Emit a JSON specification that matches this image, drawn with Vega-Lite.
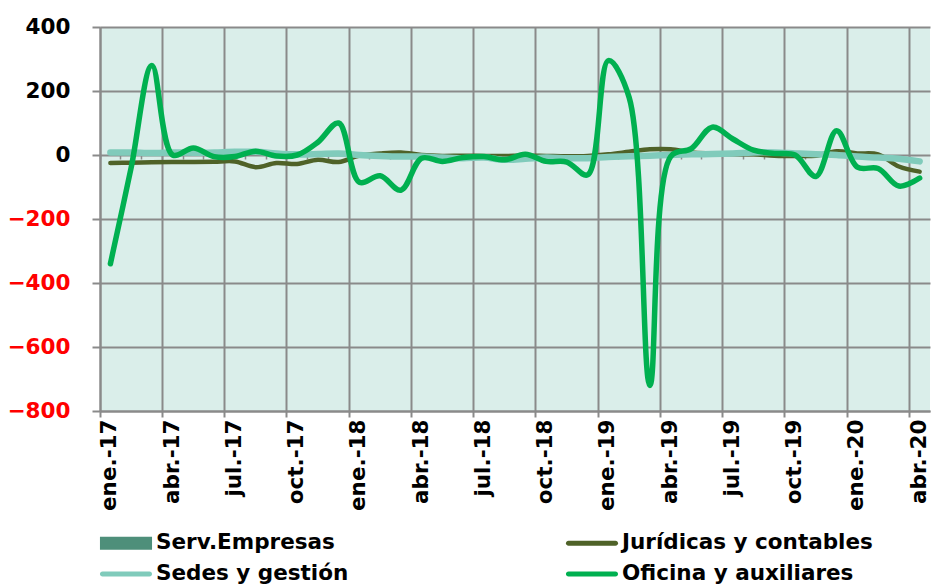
{
"$schema": "https://vega.github.io/schema/vega-lite/v6.json",
"autosize": {"type": "none"},
"padding": {"left": 100, "top": 27, "right": 15, "bottom": 174},
"width": 830,
"height": 384,
"background": "white",
"config": {"view": {"fill": "#daeeea", "stroke": null}, "font": "DejaVu Sans"},
"data": {"values": [
{"mes":"ene.-17","serie":"Jurídicas y contables","valor":-25},{"mes":"feb.-17","serie":"Jurídicas y contables","valor":-24},{"mes":"mar.-17","serie":"Jurídicas y contables","valor":-23},{"mes":"abr.-17","serie":"Jurídicas y contables","valor":-22},{"mes":"may.-17","serie":"Jurídicas y contables","valor":-22},{"mes":"jun.-17","serie":"Jurídicas y contables","valor":-21},{"mes":"jul.-17","serie":"Jurídicas y contables","valor":-20},{"mes":"ago.-17","serie":"Jurídicas y contables","valor":-38},{"mes":"sep.-17","serie":"Jurídicas y contables","valor":-25},{"mes":"oct.-17","serie":"Jurídicas y contables","valor":-28},{"mes":"nov.-17","serie":"Jurídicas y contables","valor":-15},{"mes":"dic.-17","serie":"Jurídicas y contables","valor":-22},
{"mes":"ene.-18","serie":"Jurídicas y contables","valor":-2},{"mes":"feb.-18","serie":"Jurídicas y contables","valor":5},{"mes":"mar.-18","serie":"Jurídicas y contables","valor":8},{"mes":"abr.-18","serie":"Jurídicas y contables","valor":0},{"mes":"may.-18","serie":"Jurídicas y contables","valor":-3},{"mes":"jun.-18","serie":"Jurídicas y contables","valor":-2},{"mes":"jul.-18","serie":"Jurídicas y contables","valor":-3},{"mes":"ago.-18","serie":"Jurídicas y contables","valor":-3},{"mes":"sep.-18","serie":"Jurídicas y contables","valor":-2},{"mes":"oct.-18","serie":"Jurídicas y contables","valor":-3},{"mes":"nov.-18","serie":"Jurídicas y contables","valor":-4},{"mes":"dic.-18","serie":"Jurídicas y contables","valor":-3},
{"mes":"ene.-19","serie":"Jurídicas y contables","valor":2},{"mes":"feb.-19","serie":"Jurídicas y contables","valor":10},{"mes":"mar.-19","serie":"Jurídicas y contables","valor":18},{"mes":"abr.-19","serie":"Jurídicas y contables","valor":18},{"mes":"may.-19","serie":"Jurídicas y contables","valor":8},{"mes":"jun.-19","serie":"Jurídicas y contables","valor":5},{"mes":"jul.-19","serie":"Jurídicas y contables","valor":3},{"mes":"ago.-19","serie":"Jurídicas y contables","valor":2},{"mes":"sep.-19","serie":"Jurídicas y contables","valor":-2},{"mes":"oct.-19","serie":"Jurídicas y contables","valor":-3},{"mes":"nov.-19","serie":"Jurídicas y contables","valor":-2},{"mes":"dic.-19","serie":"Jurídicas y contables","valor":12},
{"mes":"ene.-20","serie":"Jurídicas y contables","valor":5},{"mes":"feb.-20","serie":"Jurídicas y contables","valor":2},{"mes":"mar.-20","serie":"Jurídicas y contables","valor":-36},{"mes":"abr.-20","serie":"Jurídicas y contables","valor":-52},
{"mes":"ene.-17","serie":"Sedes y gestión","valor":8},{"mes":"feb.-17","serie":"Sedes y gestión","valor":8},{"mes":"mar.-17","serie":"Sedes y gestión","valor":6},{"mes":"abr.-17","serie":"Sedes y gestión","valor":8},{"mes":"may.-17","serie":"Sedes y gestión","valor":7},{"mes":"jun.-17","serie":"Sedes y gestión","valor":8},{"mes":"jul.-17","serie":"Sedes y gestión","valor":10},{"mes":"ago.-17","serie":"Sedes y gestión","valor":10},{"mes":"sep.-17","serie":"Sedes y gestión","valor":5},{"mes":"oct.-17","serie":"Sedes y gestión","valor":2},{"mes":"nov.-17","serie":"Sedes y gestión","valor":3},{"mes":"dic.-17","serie":"Sedes y gestión","valor":5},
{"mes":"ene.-18","serie":"Sedes y gestión","valor":0},{"mes":"feb.-18","serie":"Sedes y gestión","valor":-3},{"mes":"mar.-18","serie":"Sedes y gestión","valor":-5},{"mes":"abr.-18","serie":"Sedes y gestión","valor":-5},{"mes":"may.-18","serie":"Sedes y gestión","valor":-8},{"mes":"jun.-18","serie":"Sedes y gestión","valor":-10},{"mes":"jul.-18","serie":"Sedes y gestión","valor":-8},{"mes":"ago.-18","serie":"Sedes y gestión","valor":-15},{"mes":"sep.-18","serie":"Sedes y gestión","valor":-12},{"mes":"oct.-18","serie":"Sedes y gestión","valor":-8},{"mes":"nov.-18","serie":"Sedes y gestión","valor":-10},{"mes":"dic.-18","serie":"Sedes y gestión","valor":-10},
{"mes":"ene.-19","serie":"Sedes y gestión","valor":-6},{"mes":"feb.-19","serie":"Sedes y gestión","valor":-4},{"mes":"mar.-19","serie":"Sedes y gestión","valor":-2},{"mes":"abr.-19","serie":"Sedes y gestión","valor":0},{"mes":"may.-19","serie":"Sedes y gestión","valor":2},{"mes":"jun.-19","serie":"Sedes y gestión","valor":3},{"mes":"jul.-19","serie":"Sedes y gestión","valor":5},{"mes":"ago.-19","serie":"Sedes y gestión","valor":8},{"mes":"sep.-19","serie":"Sedes y gestión","valor":8},{"mes":"oct.-19","serie":"Sedes y gestión","valor":5},{"mes":"nov.-19","serie":"Sedes y gestión","valor":2},{"mes":"dic.-19","serie":"Sedes y gestión","valor":0},
{"mes":"ene.-20","serie":"Sedes y gestión","valor":-5},{"mes":"feb.-20","serie":"Sedes y gestión","valor":-8},{"mes":"mar.-20","serie":"Sedes y gestión","valor":-12},{"mes":"abr.-20","serie":"Sedes y gestión","valor":-20},
{"mes":"ene.-17","serie":"Oficina y auxiliares","valor":-340},{"mes":"feb.-17","serie":"Oficina y auxiliares","valor":-40},{"mes":"mar.-17","serie":"Oficina y auxiliares","valor":280},{"mes":"abr.-17","serie":"Oficina y auxiliares","valor":0},{"mes":"may.-17","serie":"Oficina y auxiliares","valor":22},{"mes":"jun.-17","serie":"Oficina y auxiliares","valor":-5},{"mes":"jul.-17","serie":"Oficina y auxiliares","valor":-5},{"mes":"ago.-17","serie":"Oficina y auxiliares","valor":12},{"mes":"sep.-17","serie":"Oficina y auxiliares","valor":-3},{"mes":"oct.-17","serie":"Oficina y auxiliares","valor":0},{"mes":"nov.-17","serie":"Oficina y auxiliares","valor":40},{"mes":"dic.-17","serie":"Oficina y auxiliares","valor":100},
{"mes":"ene.-18","serie":"Oficina y auxiliares","valor":-85},{"mes":"feb.-18","serie":"Oficina y auxiliares","valor":-65},{"mes":"mar.-18","serie":"Oficina y auxiliares","valor":-110},{"mes":"abr.-18","serie":"Oficina y auxiliares","valor":-10},{"mes":"may.-18","serie":"Oficina y auxiliares","valor":-20},{"mes":"jun.-18","serie":"Oficina y auxiliares","valor":-8},{"mes":"jul.-18","serie":"Oficina y auxiliares","valor":-5},{"mes":"ago.-18","serie":"Oficina y auxiliares","valor":-15},{"mes":"sep.-18","serie":"Oficina y auxiliares","valor":2},{"mes":"oct.-18","serie":"Oficina y auxiliares","valor":-20},{"mes":"nov.-18","serie":"Oficina y auxiliares","valor":-22},{"mes":"dic.-18","serie":"Oficina y auxiliares","valor":-62},
{"mes":"ene.-19","serie":"Oficina y auxiliares","valor":295},{"mes":"feb.-19","serie":"Oficina y auxiliares","valor":180},{"mes":"mar.-19","serie":"Oficina y auxiliares","valor":-720},{"mes":"abr.-19","serie":"Oficina y auxiliares","valor":-5},{"mes":"may.-19","serie":"Oficina y auxiliares","valor":20},{"mes":"jun.-19","serie":"Oficina y auxiliares","valor":87},{"mes":"jul.-19","serie":"Oficina y auxiliares","valor":50},{"mes":"ago.-19","serie":"Oficina y auxiliares","valor":15},{"mes":"sep.-19","serie":"Oficina y auxiliares","valor":5},{"mes":"oct.-19","serie":"Oficina y auxiliares","valor":0},{"mes":"nov.-19","serie":"Oficina y auxiliares","valor":-67},{"mes":"dic.-19","serie":"Oficina y auxiliares","valor":76},
{"mes":"ene.-20","serie":"Oficina y auxiliares","valor":-38},{"mes":"feb.-20","serie":"Oficina y auxiliares","valor":-42},{"mes":"mar.-20","serie":"Oficina y auxiliares","valor":-97},{"mes":"abr.-20","serie":"Oficina y auxiliares","valor":-72}
]},
"encoding": {
  "y": {"field": "valor", "type": "quantitative", "title": null,
    "scale": {"domain": [-800, 400], "nice": false, "zero": false},
    "axis": {"values": [-800, -600, -400, -200, 0, 200, 400], "grid": true, "gridColor": "#8a8a8a", "gridWidth": 2,
      "domainColor": "#8a8a8a", "domainWidth": 2, "tickColor": "#8a8a8a", "tickWidth": 2, "tickSize": 8,
      "labelFont": "DejaVu Sans", "labelFontWeight": "bold", "labelFontSize": 21.5, "labelPadding": 22,
      "labelColor": {"condition": {"test": "datum.value < 0", "value": "#ff0000"}, "value": "#000000"}}},
  "color": {"field": "serie", "type": "nominal",
    "scale": {"domain": ["Serv.Empresas", "Jurídicas y contables", "Sedes y gestión", "Oficina y auxiliares"],
              "range": ["#4e8f7a", "#4f6228", "#80cbbb", "#00b050"]},
    "legend": {"title": null, "orient": "none", "legendX": 0, "legendY": 504, "direction": "horizontal", "columns": 2,
      "columnPadding": 158, "rowPadding": 8, "gridAlign": "all",
      "symbolType": "M-2.17,-0.21H2.17V0.21H-2.17Z", "symbolSize": 576, "symbolStrokeWidth": 0, "symbolOffset": 14,
      "labelFont": "DejaVu Sans", "labelFontWeight": "bold", "labelFontSize": 21.5, "labelColor": "#000000",
      "labelOffset": 18, "labelLimit": 400,
      "encode": {"symbols": {"update": {
        "fill": {"scale": "color", "field": "value"},
        "fillOpacity": {"value": 1},
        "strokeWidth": {"value": 0},
        "shape": {"signal": "datum.value === 'Serv.Empresas' ? 'M-2.17,-0.54H2.17V0.54H-2.17Z' : 'M-1.96,-0.21H1.96A0.21,0.21 0 0 1 1.96,0.21H-1.96A0.21,0.21 0 0 1 -1.96,-0.21Z'"}}}}}}
},
"layer": [
  {
    "transform": [{"filter": "datum.serie === 'Jurídicas y contables'"}],
    "mark": {"type": "line", "interpolate": "catmull-rom", "strokeWidth": 4.5, "strokeCap": "round"},
    "encoding": {
      "x": {"field": "mes", "type": "ordinal", "sort": null, "bandPosition": 0.5, "title": null,
        "scale": {"type": "band", "paddingInner": 0, "paddingOuter": 0,
          "domain": ["ene.-17","feb.-17","mar.-17","abr.-17","may.-17","jun.-17","jul.-17","ago.-17","sep.-17","oct.-17","nov.-17","dic.-17","ene.-18","feb.-18","mar.-18","abr.-18","may.-18","jun.-18","jul.-18","ago.-18","sep.-18","oct.-18","nov.-18","dic.-18","ene.-19","feb.-19","mar.-19","abr.-19","may.-19","jun.-19","jul.-19","ago.-19","sep.-19","oct.-19","nov.-19","dic.-19","ene.-20","feb.-20","mar.-20","abr.-20"]},
        "axis": {"orient": "bottom", "values": ["ene.-17","abr.-17","jul.-17","oct.-17","ene.-18","abr.-18","jul.-18","oct.-18","ene.-19","abr.-19","jul.-19","oct.-19","ene.-20","abr.-20"],
          "bandPosition": 0, "grid": true, "gridColor": "#8a8a8a", "gridWidth": 2, "labels": false,
          "ticks": true, "tickSize": 6, "tickColor": "#8a8a8a", "tickWidth": 2,
          "domain": true, "domainColor": "#8a8a8a", "domainWidth": 2}}
    }
  },
  {
    "transform": [{"filter": "datum.serie === 'Sedes y gestión'"}],
    "mark": {"type": "line", "interpolate": "catmull-rom", "strokeWidth": 6.5, "strokeCap": "round"},
    "encoding": {
      "x": {"field": "mes", "type": "ordinal", "sort": null, "bandPosition": 0.5, "title": null,
        "axis": {"orient": "bottom", "values": ["ene.-17","abr.-17","jul.-17","oct.-17","ene.-18","abr.-18","jul.-18","oct.-18","ene.-19","abr.-19","jul.-19","oct.-19","ene.-20","abr.-20"],
          "grid": false, "ticks": false, "domain": false, "labelAngle": -90, "labelAlign": "right", "labelBaseline": "middle",
          "labelFont": "DejaVu Sans", "labelFontWeight": "bold", "labelFontSize": 21.5, "labelColor": "#000000", "labelPadding": 8}}
    }
  },
  {
    "transform": [{"filter": "datum.serie === 'Oficina y auxiliares'"}],
    "mark": {"type": "line", "interpolate": "catmull-rom", "strokeWidth": 5.5, "strokeCap": "round"},
    "encoding": {
      "x": {"field": "mes", "type": "ordinal", "sort": null, "bandPosition": 0.5, "title": null,
        "axis": {"orient": "bottom", "offset": -256, "bandPosition": 0, "grid": false, "labels": false, "domain": false,
          "ticks": true, "tickSize": 4, "tickColor": "#8a8a8a", "tickWidth": 1.5}}
    }
  }
],
"resolve": {"scale": {"x": "shared", "y": "shared", "color": "shared"}, "axis": {"x": "independent"}}
}
